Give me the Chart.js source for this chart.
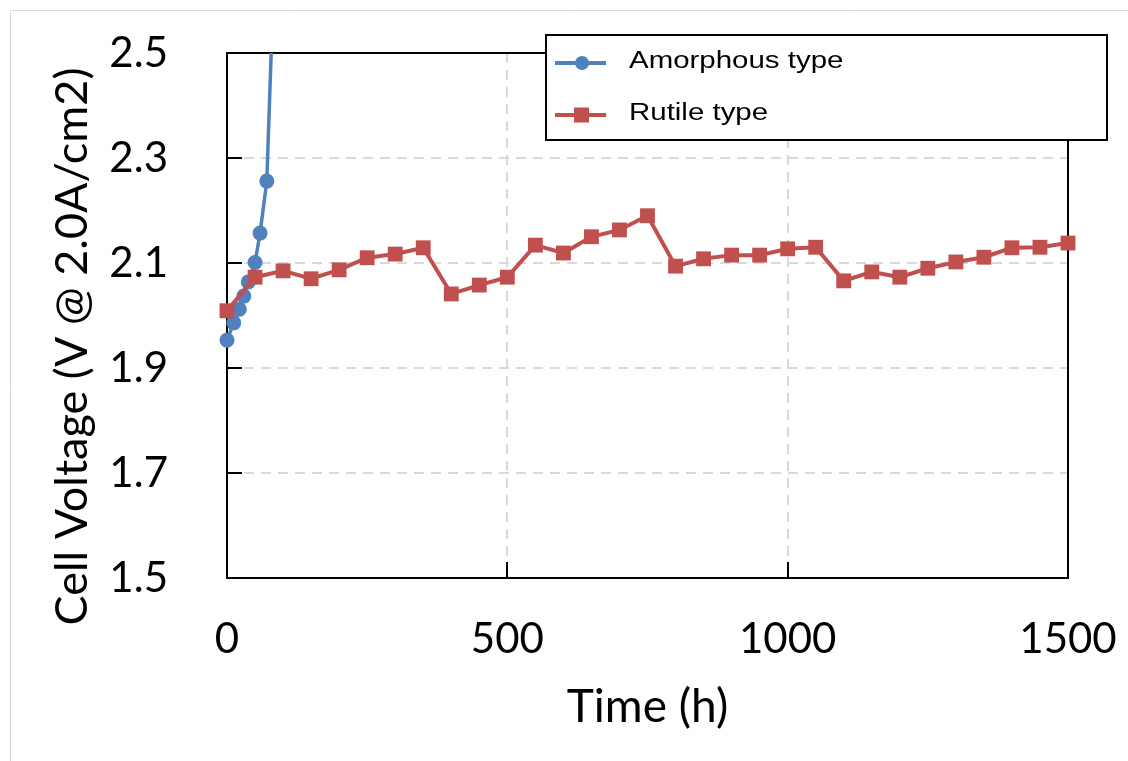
<!DOCTYPE html>
<html>
<head>
<meta charset="utf-8">
<title>Cell voltage over time</title>
<script src="https://cdn.jsdelivr.net/npm/chart.js@4.4.1/dist/chart.umd.min.js"></script>
<style>
    html, body { margin: 0; padding: 0; background: #fff; }
    #wrap { width: 1128px; height: 761px; }
</style>
</head>
<body>
<div id="wrap"><canvas id="voltageChart" width="1128" height="761"></canvas></div>
<script>
// Amorphous type: fails fast, last point runs off the top of the axis
const amorphousTime = [0, 12, 22, 30, 38, 50, 59, 71, 82];
const amorphousVoltage = [1.953, 1.986, 2.012, 2.037, 2.064, 2.101, 2.157, 2.256, 2.6];

// Rutile type: measured every 50 h
const rutileTime = [0, 50, 100, 150, 200, 250, 300, 350, 400, 450, 500, 550, 600, 650, 700, 750,
    800, 850, 900, 950, 1000, 1050, 1100, 1150, 1200, 1250, 1300, 1350, 1400, 1450, 1500];
const rutileVoltage = [2.009, 2.073, 2.085, 2.070, 2.087, 2.110, 2.117, 2.129, 2.041, 2.058, 2.073,
    2.134, 2.119, 2.150, 2.163, 2.190, 2.094, 2.108, 2.115, 2.115, 2.127, 2.130, 2.066, 2.083,
    2.073, 2.090, 2.102, 2.111, 2.129, 2.130, 2.138];

const xTicks = [0, 500, 1000, 1500];
const yTicks = [1.5, 1.7, 1.9, 2.1, 2.3, 2.5];

const BLUE = '#4F81BD';
const RED = '#C0504D';
const GRID = '#d9d9d9';
const AXIS_FONT = 'Lato, "Open Sans", sans-serif';

const toPoints = (xs, ys) => xs.map((x, i) => ({ x: x, y: ys[i] }));

// light page frame + black box around the plot area
const framePlugin = {
    id: 'frame',
    beforeDraw(chart) {
        const ctx = chart.ctx;
        ctx.save();
        ctx.strokeStyle = GRID;
        ctx.lineWidth = 1;
        ctx.beginPath();
        ctx.moveTo(10.5, chart.height);
        ctx.lineTo(10.5, 10.5);
        ctx.lineTo(chart.width, 10.5);
        ctx.stroke();
        ctx.restore();
    },
    beforeDatasetsDraw(chart) {
        const { ctx, chartArea: a } = chart;
        ctx.save();
        ctx.strokeStyle = '#000';
        ctx.lineWidth = 2;
        ctx.strokeRect(a.left, a.top, a.right - a.left, a.bottom - a.top);
        ctx.restore();
    }
};

// boxed legend sitting over the top right of the plot
const boxLegendPlugin = {
    id: 'boxLegend',
    afterDraw(chart) {
        const ctx = chart.ctx;
        const box = { x: 546, y: 35, w: 561, h: 105 };
        const rows = [63, 115];
        ctx.save();
        ctx.fillStyle = '#fff';
        ctx.fillRect(box.x, box.y, box.w, box.h);
        ctx.strokeStyle = '#000';
        ctx.lineWidth = 2;
        ctx.strokeRect(box.x, box.y, box.w, box.h);

        chart.data.datasets.forEach((ds, i) => {
            const y = rows[i];
            ctx.strokeStyle = ds.borderColor;
            ctx.lineWidth = 4;
            ctx.beginPath();
            ctx.moveTo(555, y);
            ctx.lineTo(606, y);
            ctx.stroke();
            ctx.fillStyle = ds.backgroundColor;
            if (ds.pointStyle === 'rect') {
                ctx.fillRect(574, y - 7.5, 15, 15);
            } else {
                ctx.beginPath();
                ctx.arc(582, y, 7, 0, Math.PI * 2);
                ctx.fill();
            }
            ctx.fillStyle = '#000';
            ctx.font = '23px "Liberation Sans", Arial, sans-serif';
            ctx.textBaseline = 'middle';
            ctx.translate(629, y - 1);
            ctx.scale(1.28, 1);
            ctx.fillText(ds.label, 0, 0);
            ctx.setTransform(1, 0, 0, 1, 0, 0);
        });
        ctx.restore();
    }
};

// no dashed grid line on the first/last tick, the frame covers those
const edgeGrid = (ctx) => {
    const n = ctx.scale.ticks.length;
    return (ctx.index === 0 || ctx.index === n - 1) ? 'rgba(0,0,0,0)' : GRID;
};

// y title sits a little lower than the centre of the axis
const shiftTitle = (scale, dy) => {
    if (scale._titleShifted) return;
    const orig = scale.drawTitle;
    scale.drawTitle = function () {
        this.ctx.save();
        this.ctx.translate(0, dy);
        orig.call(this);
        this.ctx.restore();
    };
    scale._titleShifted = true;
};

new Chart(document.getElementById('voltageChart'), {
    type: 'scatter',
    data: {
        datasets: [
            {
                label: 'Amorphous type',
                data: toPoints(amorphousTime, amorphousVoltage),
                showLine: true,
                borderColor: BLUE,
                backgroundColor: BLUE,
                borderWidth: 3.5,
                pointStyle: 'circle',
                pointRadius: 7.5,
                pointBorderWidth: 0,
                tension: 0,
                order: 1,
                clip: { left: false, top: 0, right: false, bottom: false }
            },
            {
                label: 'Rutile type',
                data: toPoints(rutileTime, rutileVoltage),
                showLine: true,
                borderColor: RED,
                backgroundColor: RED,
                borderWidth: 4,
                pointStyle: 'rect',
                pointRadius: 10.5,
                pointBorderWidth: 0,
                tension: 0,
                order: 0,
                clip: false
            }
        ]
    },
    options: {
        responsive: false,
        animation: false,
        layout: { padding: { top: 53, right: 60, left: 0, bottom: 0 } },
        plugins: {
            legend: { display: false },
            tooltip: { enabled: false }
        },
        scales: {
            x: {
                type: 'linear',
                min: 0,
                max: 1500,
                afterBuildTicks: (scale) => { scale.ticks = xTicks.map(v => ({ value: v })); },
                afterFit: (scale) => {
                    scale.height = 183;
                    scale.paddingLeft = 0;
                    scale.paddingRight = 0;
                },
                border: { display: false, dash: [10, 7] },
                grid: {
                    color: edgeGrid,
                    lineWidth: 2,
                    drawTicks: true,
                    tickLength: -16,
                    tickColor: '#000',
                    tickWidth: 2,
                    tickBorderDash: []
                },
                ticks: {
                    padding: 52,
                    color: '#000',
                    font: { family: AXIS_FONT, size: 42 },
                    maxRotation: 0,
                    callback: (v) => String(v)
                },
                title: {
                    display: true,
                    text: 'Time (h)',
                    color: '#000',
                    font: { family: AXIS_FONT, size: 46 },
                    padding: { top: 0, bottom: 26 }
                }
            },
            y: {
                type: 'linear',
                min: 1.5,
                max: 2.5,
                afterBuildTicks: (scale) => { scale.ticks = yTicks.map(v => ({ value: v })); },
                afterFit: (scale) => {
                    scale.width = 227;
                    scale.paddingTop = 0;
                    scale.paddingBottom = 0;
                    shiftTitle(scale, 31);
                },
                border: { display: false, dash: [10, 7] },
                grid: {
                    color: edgeGrid,
                    lineWidth: 2,
                    drawTicks: true,
                    tickLength: -15,
                    tickColor: '#000',
                    tickWidth: 2,
                    tickBorderDash: []
                },
                ticks: {
                    padding: 74,
                    color: '#000',
                    font: { family: AXIS_FONT, size: 42 },
                    callback: (v) => v.toFixed(1)
                },
                title: {
                    display: true,
                    text: 'Cell Voltage (V @ 2.0A/cm2)',
                    color: '#000',
                    font: { family: AXIS_FONT, size: 45 },
                    padding: { top: 45, bottom: 0 }
                }
            }
        }
    },
    plugins: [framePlugin, boxLegendPlugin]
});
</script>
</body>
</html>
